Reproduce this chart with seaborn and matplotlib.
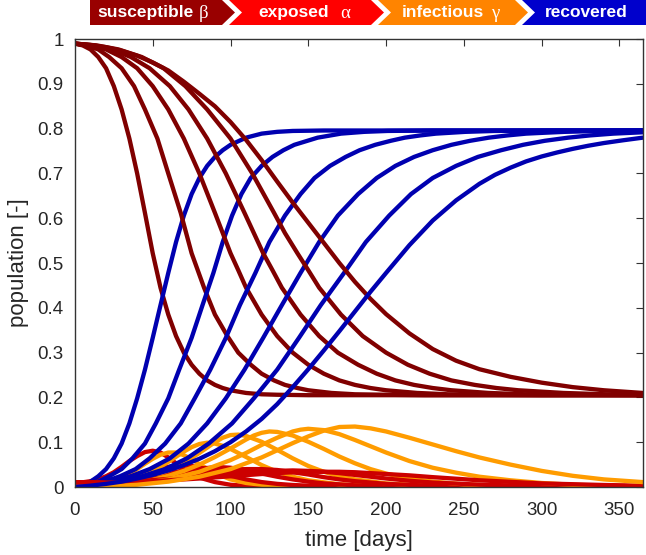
import matplotlib
matplotlib.use("Agg")
import matplotlib.pyplot as plt
from matplotlib.patches import Polygon
import seaborn as sns
import pandas as pd

# values, one (days, values) pair per run

s_days = [
    [0, 5, 10, 15, 20, 25, 30, 35, 40, 45, 50, 55, 60, 65, 70, 75, 80, 85, 90, 95, 100, 110, 120, 130, 150, 365],
    [0, 7, 15, 22, 30, 38, 45, 53, 60, 68, 75, 83, 90, 98, 105, 113, 120, 128, 135, 143, 150, 165, 180, 200, 225, 365],
    [0, 10, 20, 30, 40, 50, 60, 70, 75, 80, 85, 90, 95, 100, 105, 110, 120, 130, 140, 150, 160, 170, 180, 190, 200,
     220, 240, 260, 300, 365],
    [0, 12, 24, 36, 48, 61, 73, 85, 91, 97, 103, 109, 115, 121, 127, 133, 145, 157, 169, 182, 194, 206, 218, 230, 242,
     266, 290, 315, 365],
    [0, 14, 28, 43, 57, 71, 85, 100, 107, 114, 121, 128, 135, 143, 150, 157, 171, 185, 200, 214, 228, 242, 257, 271,
     285, 314, 342, 365],
    [0, 10, 20, 30, 40, 50, 60, 70, 80, 90, 100, 110, 120, 130, 140, 150, 160, 170, 180, 190, 200, 215, 230, 245, 260,
     280, 300, 320, 340, 365],
]
s_vals = [
    [0.99, 0.986, 0.977, 0.96, 0.935, 0.895, 0.843, 0.778, 0.70, 0.612, 0.522, 0.445, 0.385, 0.337, 0.30, 0.273, 0.253,
     0.238, 0.228, 0.221, 0.216, 0.21, 0.207, 0.206, 0.205, 0.205],
    [0.99, 0.986, 0.977, 0.96, 0.935, 0.895, 0.843, 0.778, 0.70, 0.612, 0.522, 0.445, 0.385, 0.337, 0.30, 0.273, 0.253,
     0.238, 0.228, 0.221, 0.216, 0.21, 0.207, 0.206, 0.205, 0.205],
    [0.99, 0.986, 0.977, 0.96, 0.935, 0.895, 0.843, 0.778, 0.739, 0.70, 0.656, 0.612, 0.567, 0.522, 0.484, 0.445, 0.385,
     0.337, 0.30, 0.273, 0.253, 0.238, 0.228, 0.221, 0.216, 0.21, 0.207, 0.206, 0.205, 0.205],
    [0.99, 0.986, 0.977, 0.96, 0.935, 0.895, 0.843, 0.778, 0.739, 0.70, 0.656, 0.612, 0.567, 0.522, 0.484, 0.445, 0.385,
     0.337, 0.30, 0.273, 0.253, 0.238, 0.228, 0.221, 0.216, 0.21, 0.207, 0.206, 0.205],
    [0.99, 0.986, 0.977, 0.96, 0.935, 0.895, 0.843, 0.778, 0.739, 0.70, 0.656, 0.612, 0.567, 0.522, 0.484, 0.445, 0.385,
     0.337, 0.30, 0.273, 0.253, 0.238, 0.228, 0.221, 0.216, 0.21, 0.207, 0.2065],
    [0.99, 0.987, 0.982, 0.974, 0.963, 0.948, 0.93, 0.905, 0.878, 0.85, 0.815, 0.775, 0.73, 0.682, 0.635, 0.59, 0.545,
     0.50, 0.458, 0.42, 0.386, 0.343, 0.308, 0.282, 0.263, 0.246, 0.233, 0.223, 0.216, 0.21],
]

e_days = [
    [0, 5, 10, 15, 20, 25, 30, 35, 40, 45, 50, 55, 60, 65, 70, 75, 80, 90, 100, 110, 120, 140, 365],
    [0, 10, 20, 30, 40, 50, 60, 65, 70, 75, 80, 90, 100, 110, 120, 130, 140, 150, 170, 190, 220, 365],
    [0, 10, 20, 30, 40, 50, 60, 70, 80, 90, 95, 100, 110, 120, 130, 140, 150, 160, 180, 200, 230, 260, 365],
    [0, 20, 40, 60, 80, 90, 100, 110, 120, 130, 140, 150, 160, 170, 180, 200, 230, 260, 300, 365],
    [0, 20, 40, 60, 80, 100, 120, 130, 140, 150, 160, 170, 180, 200, 215, 230, 260, 300, 340, 365],
    [0, 20, 40, 60, 80, 100, 120, 140, 150, 160, 170, 180, 200, 215, 230, 260, 300, 340, 365],
]
e_vals = [
    [0.01, 0.0105, 0.013, 0.017, 0.024, 0.033, 0.045, 0.058, 0.069, 0.078, 0.081, 0.077, 0.066, 0.053, 0.04, 0.029,
     0.021, 0.011, 0.005, 0.0025, 0.0012, 0.0003, 0],
    [0.01, 0.01, 0.013, 0.019, 0.027, 0.037, 0.045, 0.047, 0.048, 0.047, 0.044, 0.035, 0.025, 0.017, 0.011, 0.007,
     0.0045, 0.003, 0.0013, 0.0005, 0.0001, 0],
    [0.01, 0.009, 0.011, 0.014, 0.019, 0.025, 0.031, 0.037, 0.041, 0.044, 0.044, 0.043, 0.038, 0.03, 0.023, 0.017,
     0.012, 0.008, 0.0038, 0.0018, 0.0005, 0.0001, 0],
    [0.01, 0.01, 0.015, 0.023, 0.031, 0.035, 0.038, 0.04, 0.04, 0.038, 0.033, 0.028, 0.022, 0.017, 0.013, 0.007,
     0.0026, 0.001, 0.0003, 0],
    [0.01, 0.009, 0.013, 0.018, 0.024, 0.03, 0.035, 0.036, 0.037, 0.036, 0.034, 0.031, 0.027, 0.019, 0.014, 0.01,
     0.0052, 0.002, 0.0007, 0.0004],
    [0.01, 0.009, 0.011, 0.015, 0.019, 0.024, 0.029, 0.033, 0.034, 0.034, 0.034, 0.033, 0.029, 0.026, 0.022, 0.015,
     0.008, 0.0045, 0.003],
]

i_days = [
    [0, 5, 10, 15, 20, 25, 30, 35, 40, 45, 50, 55, 60, 65, 70, 75, 80, 90, 100, 110, 120, 140, 160, 365],
    [0, 10, 20, 30, 40, 50, 60, 70, 75, 80, 85, 90, 95, 100, 110, 120, 130, 140, 150, 170, 190, 220, 365],
    [0, 10, 20, 30, 40, 50, 60, 70, 80, 90, 95, 100, 105, 110, 120, 130, 140, 150, 160, 170, 180, 200, 220, 250, 365],
    [0, 10, 20, 30, 40, 50, 60, 70, 80, 90, 100, 110, 115, 120, 125, 130, 140, 150, 160, 170, 180, 190, 200, 215, 230,
     250, 280, 365],
    [0, 20, 40, 60, 80, 100, 110, 120, 130, 140, 145, 150, 160, 170, 180, 190, 200, 215, 230, 245, 260, 280, 300, 320,
     340, 365],
    [0, 20, 40, 60, 80, 100, 120, 130, 140, 150, 160, 170, 180, 190, 200, 215, 230, 245, 260, 280, 300, 320, 340, 365],
]
i_vals = [
    [0, 0.0008, 0.002, 0.004, 0.007, 0.012, 0.019, 0.028, 0.04, 0.052, 0.063, 0.072, 0.077, 0.077, 0.071, 0.062, 0.051,
     0.031, 0.017, 0.009, 0.005, 0.0015, 0.0005, 0],
    [0, 0.001, 0.004, 0.01, 0.02, 0.035, 0.056, 0.079, 0.089, 0.096, 0.099, 0.097, 0.092, 0.085, 0.067, 0.049, 0.034,
     0.023, 0.015, 0.006, 0.0025, 0.0008, 0],
    [0, 0.001, 0.003, 0.007, 0.014, 0.024, 0.037, 0.054, 0.076, 0.1, 0.11, 0.116, 0.117, 0.114, 0.101, 0.083, 0.064,
     0.047, 0.034, 0.024, 0.017, 0.008, 0.004, 0.0015, 0],
    [0, 0.0006, 0.002, 0.005, 0.01, 0.016, 0.025, 0.036, 0.05, 0.067, 0.086, 0.106, 0.115, 0.121, 0.124, 0.123, 0.115,
     0.101, 0.085, 0.068, 0.053, 0.04, 0.03, 0.019, 0.012, 0.006, 0.002, 0],
    [0, 0.0015, 0.007, 0.017, 0.034, 0.06, 0.076, 0.094, 0.11, 0.124, 0.128, 0.13, 0.127, 0.118, 0.105, 0.091, 0.077,
     0.058, 0.043, 0.032, 0.023, 0.015, 0.009, 0.005, 0.003, 0.0015],
    [0, 0.001, 0.005, 0.012, 0.023, 0.04, 0.066, 0.082, 0.098, 0.113, 0.126, 0.134, 0.135, 0.131, 0.124, 0.11, 0.095,
     0.08, 0.066, 0.05, 0.036, 0.025, 0.017, 0.011],
]

r_days = [
    [0, 5, 10, 15, 20, 25, 30, 35, 40, 45, 50, 55, 60, 65, 70, 75, 80, 85, 90, 95, 100, 110, 120, 130, 140, 160, 365],
    [0, 7, 15, 22, 30, 37, 45, 52, 60, 67, 75, 82, 89, 95, 101, 107, 113, 120, 127, 134, 141, 156, 171, 186, 201, 230,
     365],
    [0, 10, 19, 29, 39, 48, 58, 68, 77, 87, 97, 106, 116, 125, 135, 145, 154, 164, 174, 183, 193, 203, 212, 222, 232,
     251, 270, 309, 365],
    [0, 12, 24, 36, 48, 61, 73, 85, 97, 109, 121, 133, 145, 157, 169, 182, 194, 206, 218, 230, 242, 254, 266, 278, 290,
     302, 315, 327, 339, 365],
    [0, 14, 29, 43, 58, 72, 86, 101, 115, 130, 144, 158, 173, 187, 202, 216, 230, 245, 259, 274, 288, 302, 317, 331,
     346, 365],
    [0, 10, 20, 30, 40, 50, 60, 70, 80, 90, 100, 110, 120, 130, 140, 150, 160, 170, 180, 190, 200, 215, 230, 245, 260,
     270, 280, 290, 300, 310, 320, 330, 340, 352, 365],
]
r_vals = [
    [0, 0.004, 0.012, 0.024, 0.04, 0.064, 0.097, 0.142, 0.198, 0.262, 0.333, 0.406, 0.478, 0.547, 0.606, 0.654, 0.69,
     0.717, 0.737, 0.752, 0.764, 0.78, 0.789, 0.793, 0.795, 0.796, 0.796],
    [0, 0.004, 0.012, 0.024, 0.04, 0.064, 0.097, 0.142, 0.198, 0.262, 0.333, 0.406, 0.478, 0.547, 0.606, 0.654, 0.69,
     0.717, 0.737, 0.752, 0.764, 0.78, 0.789, 0.793, 0.795, 0.796, 0.796],
    [0, 0.004, 0.012, 0.024, 0.04, 0.064, 0.097, 0.142, 0.198, 0.262, 0.333, 0.406, 0.478, 0.547, 0.606, 0.654, 0.69,
     0.717, 0.737, 0.752, 0.764, 0.773, 0.78, 0.785, 0.789, 0.793, 0.795, 0.796, 0.796],
    [0, 0.004, 0.012, 0.024, 0.04, 0.064, 0.097, 0.142, 0.198, 0.262, 0.333, 0.406, 0.478, 0.547, 0.606, 0.654, 0.69,
     0.717, 0.737, 0.752, 0.764, 0.773, 0.78, 0.785, 0.789, 0.791, 0.793, 0.794, 0.795, 0.796],
    [0, 0.004, 0.012, 0.024, 0.04, 0.064, 0.097, 0.142, 0.198, 0.262, 0.333, 0.406, 0.478, 0.547, 0.606, 0.654, 0.69,
     0.717, 0.737, 0.752, 0.764, 0.773, 0.78, 0.785, 0.789, 0.792],
    [0, 0.003, 0.007, 0.012, 0.019, 0.027, 0.037, 0.049, 0.063, 0.08, 0.1, 0.124, 0.152, 0.185, 0.223, 0.263, 0.305,
     0.348, 0.392, 0.436, 0.478, 0.54, 0.595, 0.64, 0.677, 0.697, 0.713, 0.727, 0.738, 0.747, 0.755, 0.762, 0.768,
     0.774, 0.78],
]

groups = ["S", "E", "I", "R"]
line_colors = {"S": "#800000", "E": "#cc0000", "I": "#ff9c00", "R": "#0000b0"}
families = {"S": (s_days, s_vals), "E": (e_days, e_vals), "I": (i_days, i_vals), "R": (r_days, r_vals)}

rows = []
for name in groups:
    day_lists, val_lists = families[name]
    for run, (dd, vv) in enumerate(zip(day_lists, val_lists)):
        for d, v in zip(dd, vv):
            rows.append((run, name, d, v))
df = pd.DataFrame(rows, columns=["run", "group", "day", "value"])

sns.set_theme(style="white")
plt.rcParams["font.family"] = ["Liberation Sans", "DejaVu Sans"]

fig = plt.figure(figsize=(6.46, 5.55), dpi=100)
ax = fig.add_axes([0.116, 0.1225, 0.879, 0.807])

# run by run, S E I R, like a plotting loop with hold on
for run in range(len(s_days)):
    for name in groups:
        sub = df[(df["run"] == run) & (df["group"] == name)]
        sns.lineplot(data=sub, x="day", y="value", color=line_colors[name], lw=3.1,
                     estimator=None, sort=False, legend=False, ax=ax)

ax.set_xlim(0, 365)
ax.set_ylim(0, 1)
ax.set_xticks(range(0, 351, 50))
ax.set_yticks([i / 10 for i in range(11)])
ax.set_yticklabels(["0", "0.1", "0.2", "0.3", "0.4", "0.5", "0.6", "0.7", "0.8", "0.9", "1"])
ax.tick_params(direction="in", length=5, width=0.8, top=True, right=True,
               labelsize=13.5, color="#333333")
ax.tick_params(axis="x", pad=11)
ax.tick_params(axis="y", pad=8)
for sp in ax.spines.values():
    sp.set_color("#333333")
    sp.set_linewidth(1.0)
ax.set_xlabel("time [days]", fontsize=16, labelpad=8)
ax.set_ylabel("population [-]", fontsize=16, labelpad=6)

# header banner with chevrons
bax = fig.add_axes([0, 0, 1, 1], zorder=5)
bax.set_xlim(0, 646)
bax.set_ylim(555, 0)
bax.axis("off")
h, d = 25, 13
segments = [
    (90, 222, "#990000", False),
    (229, 371, "#ff0000", True),
    (378, 515, "#ff8400", True),
    (522, 660, "#0000cc", True),
]
for x0, x1, col, notch in segments:
    pts = [(x0, 0), (x1, 0), (x1 + d, h / 2), (x1, h), (x0, h)]
    if notch:
        pts.append((x0 + d, h / 2))
    bax.add_patch(Polygon(pts, closed=True, facecolor=col, edgecolor="none"))

labels = [("susceptible", 97, "β", 199), ("exposed", 258, "α", 340),
          ("infectious", 402, "γ", 491), ("recovered", 545, "", 0)]
for word, xw, greek, xg in labels:
    bax.text(xw, 12.5, word, color="white", fontsize=12.5, fontweight="bold",
             ha="left", va="center")
    if greek:
        bax.text(xg, 13.5, greek, color="white", fontsize=13.5, ha="left", va="center",
                 family=["Liberation Serif", "DejaVu Serif"])

fig.savefig("out.png", dpi=100)
plt.close(fig)
